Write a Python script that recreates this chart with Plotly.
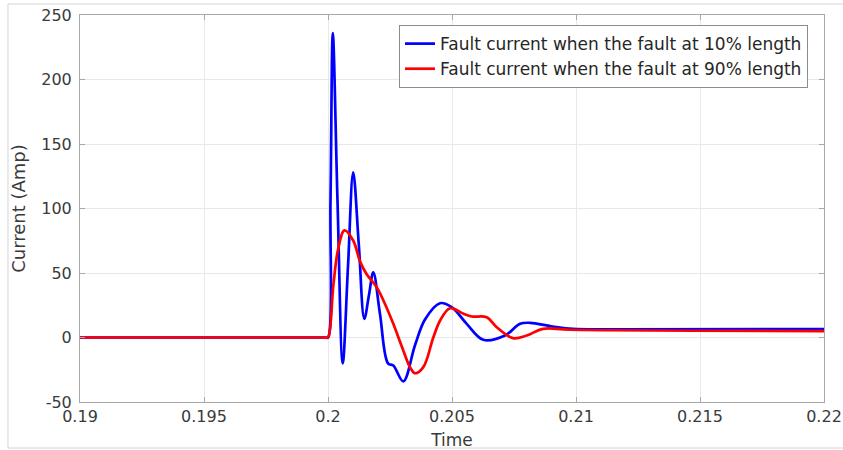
import plotly.graph_objects as go

# Fault current at 10% of the line length (time in s, current in A)
t_near = [0.19, 0.1999, 0.2, 0.200101, 0.200194, 0.200383, 0.200593, 0.200806,
          0.201016, 0.201242, 0.201464, 0.201653, 0.201827, 0.202097, 0.202419,
          0.202633, 0.203036, 0.203508, 0.203911, 0.204516, 0.204988, 0.205593,
          0.206262, 0.207137, 0.207742, 0.208145, 0.209073, 0.209879, 0.211774, 0.22]
i_near = [0, 0, 0, 106, 236, 106, -20, 55,
          128, 72, 14.5, 33, 50.6, 18, -20,
          -21.7, -34, -6, 14, 26.6, 23.5, 10.6,
          -1.8, 1.5, 10.6, 11.4, 8.5, 6.7, 6.4, 6.6]

# Fault current at 90% of the line length
t_far = [0.19, 0.1999, 0.2, 0.200214, 0.200403, 0.200665, 0.201020, 0.201290,
         0.201560, 0.201964, 0.202298, 0.202633, 0.203036, 0.203306, 0.203508,
         0.203843, 0.204246, 0.204516, 0.204919, 0.205444, 0.205794, 0.206399,
         0.206802, 0.207460, 0.208012, 0.208669, 0.209758, 0.22]
i_far = [0, 0, 0, 40, 68, 83, 75, 59,
         49, 39, 26, 10.6, -10, -23, -27.7,
         -23, 0, 13, 22.7, 18.6, 16.3, 15.7,
         8, -0.5, 1.5, 6.7, 6.0, 5.0]

x_ticks = [0.19, 0.195, 0.2, 0.205, 0.21, 0.215, 0.22]
x_labels = ["0.19", "0.195", "0.2", "0.205", "0.21", "0.215", "0.22"]
y_ticks = [-50, 0, 50, 100, 150, 200, 250]
y_labels = ["-50", "0", "50", "100", "150", "200", "250"]

FONT = "DejaVu Sans"
TXT = "#3a3a3a"
AX = "#a8a8a8"
GRID = "#e8e8e8"

fig = go.Figure()
fig.add_trace(go.Scatter(
    x=t_near, y=i_near, mode="lines",
    name="Fault current when the fault at 10% length",
    line=dict(color="#0000ff", width=2.7, shape="spline", smoothing=1.0),
))
fig.add_trace(go.Scatter(
    x=t_far, y=i_far, mode="lines",
    name="Fault current when the fault at 90% length",
    line=dict(color="#ff0000", width=2.7, shape="spline", smoothing=1.0),
))

axis_common = dict(
    automargin=False,
    showline=True, linecolor=AX, linewidth=1, mirror="ticks",
    ticks="inside", ticklen=5, tickcolor=AX, tickwidth=1,
    showgrid=True, gridcolor=GRID, gridwidth=1, zeroline=False,
    tickfont=dict(family=FONT, size=16, color=TXT),
)

fig.update_xaxes(
    range=[0.19, 0.22], tickvals=x_ticks, ticktext=x_labels,
    title=dict(text="Time", font=dict(family=FONT, size=17, color=TXT), standoff=8),
    **axis_common,
)
fig.update_yaxes(
    range=[-50, 250], tickvals=y_ticks, ticktext=y_labels,
    ticklabelstandoff=4,
    title=dict(text="Current (Amp)", font=dict(family=FONT, size=18, color=TXT), standoff=10),
    **axis_common,
)

# light outer frame of the figure
frame = dict(type="line", xref="paper", yref="paper", line=dict(color="#d4d4d4", width=1))
fig.add_shape(x0=-0.0968, x1=-0.0968, y0=-0.1189, y1=1.0284, **frame)
fig.add_shape(x0=-0.0968, x1=1.05, y0=1.0284, y1=1.0284, **frame)
fig.add_shape(x0=-0.0968, x1=1.05, y0=-0.1189, y1=-0.1189, **frame)

fig.update_layout(
    width=843, height=450,
    margin=dict(l=80, r=19, t=15, b=48),
    paper_bgcolor="white", plot_bgcolor="white",
    showlegend=True,
    legend=dict(
        x=0.9785, y=0.974, xanchor="right", yanchor="top",
        bgcolor="white", bordercolor="#8c8c8c", borderwidth=1,
        font=dict(family=FONT, size=17, color="#262626"),
        tracegroupgap=0, itemwidth=30,
    ),
)

fig.write_html("out.html")
